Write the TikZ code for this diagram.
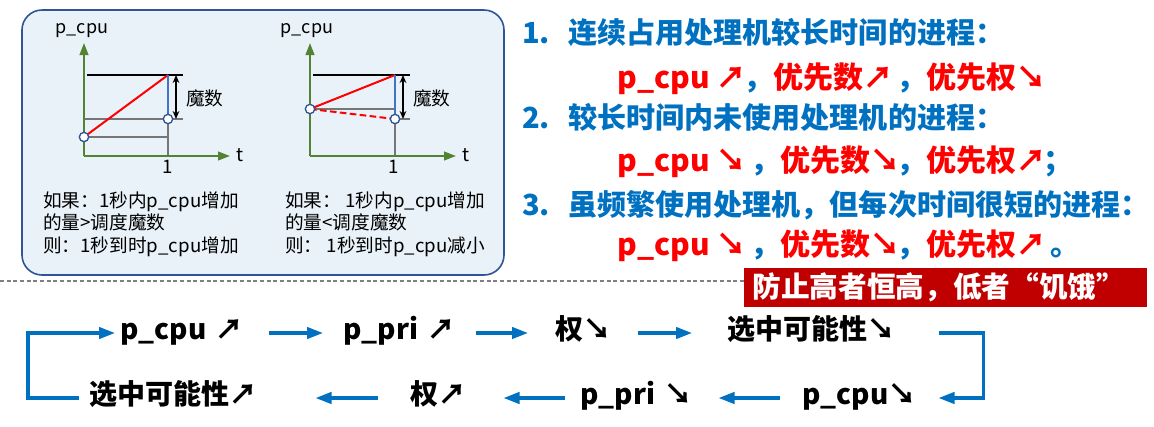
\documentclass[tikz,border=0pt]{standalone}
\usepackage{fontspec}
\setmainfont{Noto Sans CJK SC}
\usetikzlibrary{arrows.meta}
\definecolor{bluet}{RGB}{0,112,192}
\definecolor{redt}{RGB}{255,0,0}
\definecolor{darkred}{RGB}{192,0,0}
\definecolor{axisg}{RGB}{84,130,53}
\definecolor{boxfill}{RGB}{232,242,248}
\definecolor{boxline}{RGB}{47,85,151}
\definecolor{ptblue}{RGB}{47,85,151}
\definecolor{vblue}{RGB}{68,114,196}
\definecolor{grayl}{RGB}{118,118,118}
\newcommand{\myup}{↗\kern-2.5pt}
\newcommand{\mydn}{↘\kern-2.5pt}
\begin{document}
\begin{tikzpicture}[x=0.75pt,y=-0.75pt,
  bluehead/.style={font=\fontsize{21.8}{25}\selectfont\bfseries, text=bluet, inner sep=0pt, anchor=base west},
  redline/.style={font=\fontsize{22.5}{26}\selectfont\bfseries, text=redt, inner sep=0pt, anchor=base west},
  flow/.style={font=\fontsize{21}{25}\selectfont\bfseries, text=black, inner sep=0pt, anchor=west,
    text height=15pt, text depth=6pt, align=left},
  flowarrow/.style={draw=bluet, line width=2.4pt, -{Triangle[length=12pt,width=8.5pt]}},
  small/.style={font=\fontsize{14}{16}\selectfont, inner sep=0pt, anchor=base west},
  axislabel/.style={font=\fontsize{14}{16}\selectfont, inner sep=0pt},
  axis/.style={draw=axisg, line width=1.5pt, -{Triangle[length=9pt,width=6.5pt]}},
  blackl/.style={draw=black, line width=0.9pt},
  grayline/.style={draw=grayl, line width=1.3pt},
  redl/.style={draw=redt, line width=1.5pt},
  bluev/.style={draw=vblue, line width=1.5pt},
  magic/.style={draw=black, line width=1pt, {Stealth[length=6pt,width=5pt]}-{Stealth[length=6pt,width=5pt]}},
  pt/.style={circle, draw=ptblue, fill=white, line width=1pt, minimum size=7pt, inner sep=0pt},
]
\useasboundingbox (0,0) rectangle (1154,426);

% ---------- panel ----------
\draw[draw=boxline, fill=boxfill, line width=1.2pt, rounded corners=15pt] (22,10) rectangle (504,275);

% ---------- graph 1 ----------
\draw[blackl] (87,75) -- (183,75);
\draw[grayline] (84,119) -- (183,119);
\draw[grayline] (84,137) -- (168,137);
\draw[grayline] (168,119) -- (168,156);
\draw[axis] (84,156) -- (84,43);
\draw[axis] (84,156) -- (230,156);
\draw[redl] (84,137) -- (168,75);
\draw[bluev] (168,75) -- (168,119);
\draw[magic] (176,75) -- (176,119);
\node[pt] (g1a) at (84,137) {};
\node[pt] (g1b) at (168,119) {};
\node[axislabel, font=\fontsize{13.5}{15}\selectfont, anchor=base] (g1y) at (82,33) {p\_cpu};
\node[axislabel, anchor=base] (g1t) at (240,161) {t};
\node[axislabel, anchor=base] (g1one) at (168,173) {1};
\node[axislabel, anchor=west] (g1m) at (186,98) {魔数};

% ---------- graph 2 ----------
\draw[blackl] (313,75) -- (410,75);
\draw[grayline] (310,109) -- (395,109);
\draw[grayline] (395,119) -- (410,119);
\draw[grayline] (395,119) -- (395,156);
\draw[axis] (310,156) -- (310,43);
\draw[axis] (310,156) -- (456,156);
\draw[redl] (310,109) -- (395,75);
\draw[redl, dash pattern=on 5pt off 2.5pt] (310,109) -- (395,119);
\draw[bluev] (395,75) -- (395,119);
\draw[magic] (403,75) -- (403,119);
\node[pt] (g2a) at (310,109) {};
\node[pt] (g2b) at (395,119) {};
\node[axislabel, font=\fontsize{13.5}{15}\selectfont, anchor=base] (g2y) at (307,33) {p\_cpu};
\node[axislabel, anchor=base] (g2t) at (466,161) {t};
\node[axislabel, anchor=base] (g2one) at (394,173) {1};
\node[axislabel, anchor=west] (g2m) at (413,98) {魔数};

% ---------- panel texts ----------
\node[small] (l1) at (43,207) {如果：1秒内p\_cpu增加};
\node[small] (l2) at (43,229) {的量>调度魔数};
\node[small] (l3) at (43,252) {则：1秒到时p\_cpu增加};
\node[small] (r1) at (285,207) {如果： 1秒内p\_cpu增加};
\node[small] (r2) at (285,229) {的量<调度魔数};
\node[small] (r3) at (285,252) {则： 1秒到时p\_cpu减小};

% ---------- right list ----------
\node[bluehead] (n1) at (522,43) {1.};
\node[bluehead] (h1) at (568,43) {连续占用处理机较长时间的进程：};
\node[redline] (c1) at (617,88) {p\_cpu \myup{\color{bluet}，}优先数\myup\ {\color{bluet}，}优先权\mydn};
\node[bluehead] (n2) at (522,128) {2.};
\node[bluehead] (h2) at (568,128) {较长时间内未使用处理机的进程：};
\node[redline] (c2) at (617,171) {p\_cpu \mydn\ {\color{bluet}，}优先数\mydn{\color{bluet}，}优先权\myup{\color{bluet}；}};
\node[bluehead] (n3) at (522,215) {3.};
\node[bluehead] (h3) at (568,215) {虽频繁使用处理机，但每次时间很短的进程：};
\node[redline] (c3) at (617,255) {p\_cpu \mydn\ {\color{bluet}，}优先数\mydn{\color{bluet}，}优先权\myup\ {\color{bluet}。}};

% ---------- warning ----------
\node[fill=darkred, text=white, font=\fontsize{21.5}{25}\selectfont\bfseries, minimum width=302pt, minimum height=29pt, inner sep=0pt] (warn) at (945.5,287.5) {\hspace*{-10pt}防止高者恒高，低者“饥饿”};
\coordinate (dl) at (0,281);
\draw[draw=gray, line width=0.8pt, dash pattern=on 3pt off 2pt] (dl) -- (dl -| warn.west);

% ---------- flow ----------
\node[flow, text width=82.5pt] (f1) at (120,333) {\mbox{p\_cpu ↗}};
\node[flow, text width=72.75pt] (f2) at (343,333) {\mbox{p\_pri ↗}};
\node[flow, text width=36pt] (f3) at (555,333) {\mbox{权↘}};
\node[flow, text width=116.25pt] (f4) at (727,333) {\mbox{选中可能性↘}};
\node[flow, text width=73.5pt] (f5) at (802,398) {\mbox{p\_cpu↘}};
\node[flow, text width=72.75pt] (f6) at (580,398) {\mbox{p\_pri ↘}};
\node[flow, text width=36pt] (f7) at (410,398) {\mbox{权↗}};
\node[flow, text width=117pt] (f8) at (89,398) {\mbox{选中可能性↗}};

\draw[flowarrow, shorten <=28.5pt, shorten >=15pt] (f1.east) -- (f2.west);
\draw[flowarrow, shorten <=26.25pt, shorten >=20.25pt] (f2.east) -- (f3.west);
\draw[flowarrow, shorten <=25.5pt, shorten >=26.25pt] (f3.east) -- (f4.west);
\draw[flowarrow, shorten <=42pt, shorten >=28.5pt] (f4.east) -- ++(101,0) |- (f5.east);
\draw[flowarrow, shorten <=16.5pt, shorten >=30.75pt] (f5.west) -- (f6.east);
\draw[flowarrow, shorten <=11.25pt, shorten >=33.75pt] (f6.west) -- (f7.east);
\draw[flowarrow, shorten <=24pt, shorten >=52.5pt] (f7.west) -- (f8.east);
\draw[flowarrow, shorten <=7.5pt, shorten >=3.75pt] (f8.west) -- ++(-61,0) |- (f1.west);
\end{tikzpicture}
\end{document}
